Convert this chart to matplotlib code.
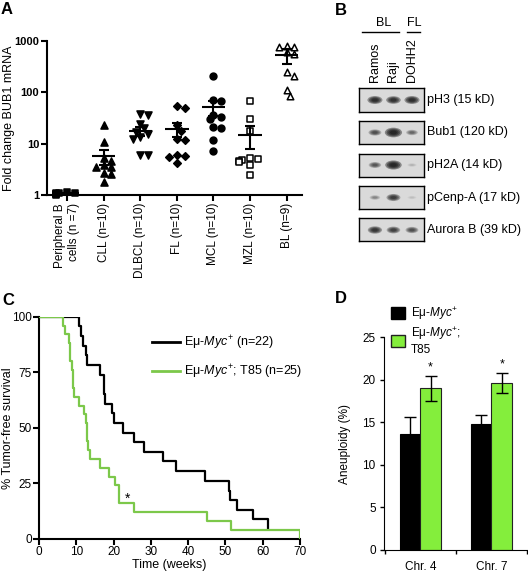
import numpy as np
import matplotlib
matplotlib.use("Agg")
import matplotlib.pyplot as plt
import matplotlib.transforms as mtransforms
from matplotlib.patches import Ellipse, Patch
from matplotlib.lines import Line2D

plt.rcParams['font.family'] = ['Liberation Sans', 'DejaVu Sans']
plt.rcParams['mathtext.fontset'] = 'custom'
plt.rcParams['mathtext.rm'] = 'Liberation Sans'
plt.rcParams['mathtext.it'] = 'Liberation Sans:italic'

# ---------------- data ----------------
# A: fold change BUB1 mRNA
groups = ['Peripheral B\ncells (n =7)', 'CLL (n=10)', 'DLBCL (n=10)', 'FL (n=10)',
          'MCL (n=10)', 'MZL (n=10)', 'BL (n=9)']
pbc = [1.03, 1.05, 1.07, 1.09, 1.11, 1.13, 1.15]
cll = [23.5, 10.8, 5.2, 4.6, 3.9, 3.6, 3.5, 2.7, 2.6, 1.8]
dlbcl = [38, 37, 24.5, 20, 17, 15.7, 13.5, 12.6, 6.0, 6.0]
fl = [55, 50, 22.8, 18, 12.6, 11.7, 6.0, 5.7, 5.6, 4.2]
mcl = [210, 72, 68, 36, 34, 30, 21, 20, 11.7, 7.3]
mzl = [69, 30.6, 17.7, 5.2, 5.0, 4.8, 4.6, 4.4, 3.8, 2.5]
bl = [800, 750, 760, 620, 550, 245, 210, 112, 87]
group_mean = [1.09, 5.7, 17.7, 19.6, 51, 15, 534]
group_sem = [0.03, 1.9, 3.5, 5.7, 16, 7, 170]

# B: western blot
blot_rows = ['pH3 (15 kD)', 'Bub1 (120 kD)', 'pH2A (14 kD)', 'pCenp-A (17 kD)', 'Aurora B (39 kD)']
blot_lanes = ['Ramos', 'Raji', 'DOHH2']
band_intensity = [[0.9, 0.85, 0.9],
                  [0.6, 1.2, 0.45],
                  [0.55, 1.1, 0.12],
                  [0.3, 0.75, 0.08],
                  [0.8, 0.7, 0.6]]

# C: Kaplan-Meier (weeks, % tumor-free)
myc_t = [0, 10.6, 11.3, 11.7, 12.6, 13.0, 16.4, 17.3, 17.5, 17.7, 19.7, 20.2, 22.6,
         25.6, 28.1, 33.2, 36.7, 44.5, 51.0, 51.2, 53.0, 57.3, 61.5]
myc_s = [100, 95.7, 91.3, 87.0, 82.6, 78.3, 73.9, 69.6, 65.2, 60.9, 56.5, 52.2, 47.8,
         43.5, 39.1, 34.8, 30.4, 26.1, 21.7, 17.4, 13.0, 8.7, 4.3]
t85_t = [0, 6.5, 7.1, 8.1, 8.2, 8.4, 8.8, 9.0, 9.2, 9.5, 10.6, 12.2, 12.6, 12.9, 13.0,
         13.1, 13.7, 16.4, 18.9, 20.4, 21.4, 21.5, 25.4, 45.0, 51.5, 70.0]
t85_s = [100, 96, 92, 88, 84, 80, 76, 72, 68, 64, 60, 56, 52, 48, 44, 40, 36, 32, 28,
         24, 20, 16, 12, 8, 4, 0]

# D: aneuploidy
chroms = ['Chr. 4', 'Chr. 7']
aneu_myc = [13.6, 14.8]
aneu_myc_err = [2.0, 1.1]
aneu_t85 = [19.0, 19.6]
aneu_t85_err = [1.5, 1.2]

GREEN = '#84ee3c'
GREEN_LINE = '#7cc84a'

W, H = 528, 576
fig = plt.figure(figsize=(W / 100, H / 100), dpi=100)


def px_axes(left, top, right, bottom):
    return fig.add_axes([left / W, 1 - bottom / H, (right - left) / W, (bottom - top) / H])


def fxy(x, y):
    return x / W, 1 - y / H


def ylabel_at(ax, px):
    # right edge of the rotated y label at a pixel column
    bb = ax.get_position()
    ax.yaxis.set_label_coords((px / W - bb.x0) / bb.width, 0.5)


def swarm(vals, dx=0.15, dy=0.11):
    # simple beeswarm: push overlapping points sideways
    logs = np.log10(vals)
    offs = np.zeros(len(vals))
    placed = []
    for idx in np.argsort(-logs):
        for k in [0, 1, -1, 2, -2, 3, -3]:
            off = k * dx * 0.7
            if all(((off - po) / dx) ** 2 + ((logs[idx] - pl) / dy) ** 2 >= 1 for po, pl in placed):
                break
        offs[idx] = off
        placed.append((off, logs[idx]))
    return offs


# ---------------- panel A ----------------
axA = px_axes(47, 41, 302, 195.3)
series = [pbc, cll, dlbcl, fl, mcl, mzl, bl]
markers = [('s', True, 20), ('^', True, 26), ('v', True, 26), ('D', True, 15),
           ('o', True, 24), ('s', False, 22), ('^', False, 22)]
for i, vals in enumerate(series):
    mk, filled, size = markers[i]
    offs = swarm(np.array(vals))
    axA.scatter(i + offs, vals, marker=mk, s=size, facecolor='black' if filled else 'white',
                edgecolor='black', linewidth=1.1, zorder=3, clip_on=False)
    m, e = group_mean[i], group_sem[i]
    axA.hlines(m, i - 0.32, i + 0.32, color='black', lw=1.5, zorder=4)
    axA.vlines(i, m - e, m + e, color='black', lw=1.5, zorder=4)
    axA.hlines([m - e, m + e], i - 0.14, i + 0.14, color='black', lw=1.5, zorder=4)
axA.set_yscale('log')
axA.set_ylim(1, 1000)
axA.set_xlim(-0.55, 6.42)
axA.set_yticks([1, 10, 100, 1000])
axA.set_yticklabels(['1', '10', '100', '1000'], fontweight='bold', fontsize=8)
axA.yaxis.set_minor_locator(matplotlib.ticker.NullLocator())
axA.set_xticks(range(len(groups)))
axA.set_xticklabels(groups, rotation=90, fontsize=8.5, va='top', ha='center', multialignment='right')
axA.set_ylabel('Fold change BUB1 mRNA', fontsize=9)
ylabel_at(axA, 15)
for s in ['top', 'right']:
    axA.spines[s].set_visible(False)
for s in ['left', 'bottom']:
    axA.spines[s].set_linewidth(1.5)
axA.tick_params(direction='out', length=4, width=1.5, pad=1.5)

# ---------------- panel B ----------------
row_axes = []
for r, name in enumerate(blot_rows):
    cy = 100 + 32.5 * r
    ax = px_axes(359, cy - 11.5, 424, cy + 11.5)
    ax.set_xlim(-0.86, 2.65)
    ax.set_ylim(0, 1)
    ax.set_facecolor('#dadada')
    ax.set_xticks([])
    ax.set_yticks([])
    for s in ax.spines.values():
        s.set_linewidth(1.0)
    for j, inten in enumerate(band_intensity[r]):
        w = 0.45 + 0.4 * inten
        h = 0.12 + 0.25 * inten
        a = min(1.0, inten) * 0.42
        for sc in [1.0, 0.8, 0.6, 0.4]:
            ax.add_patch(Ellipse((j, 0.5), w * sc, h * sc, color='#111111', alpha=a, lw=0))
    ax.text(1.05, 0.5, name, transform=ax.transAxes, va='center', ha='left', fontsize=9)
    row_axes.append(ax)

ax0 = row_axes[0]
btrans = mtransforms.blended_transform_factory(ax0.transData, fig.transFigure)
for j, lane in enumerate(blot_lanes):
    ax0.text(j, fxy(0, 82)[1], lane, transform=btrans, rotation=90, ha='center', va='bottom',
             fontsize=9)
ax0.text(0.45, fxy(0, 23)[1], 'BL', transform=btrans, ha='center', va='center', fontsize=9)
ax0.text(2.15, fxy(0, 23)[1], 'FL', transform=btrans, ha='center', va='center', fontsize=9)
ax0.add_line(Line2D([-0.7, 1.3], [fxy(0, 31.7)[1]] * 2, transform=btrans, color='black',
                    lw=1, clip_on=False))
ax0.add_line(Line2D([1.75, 2.45], [fxy(0, 31.7)[1]] * 2, transform=btrans, color='black',
                    lw=1, clip_on=False))

# ---------------- panel C ----------------
axC = px_axes(39, 316.7, 300, 538.7)
axC.step(myc_t, myc_s, where='post', color='black', lw=1.6, zorder=2)
axC.step(t85_t, t85_s, where='post', color=GREEN_LINE, lw=1.6, zorder=3)
axC.text(23.8, 18, '*', ha='center', va='center', fontsize=10)
axC.set_xlim(0, 70)
axC.set_ylim(0, 100)
axC.set_xticks(range(0, 71, 10))
axC.set_yticks([0, 25, 50, 75, 100])
axC.set_xlabel('Time (weeks)', fontsize=9, labelpad=1)
axC.set_ylabel('% Tumor-free survival', fontsize=9)
ylabel_at(axC, 14)
for s in ['top', 'right']:
    axC.spines[s].set_visible(False)
for s in ['left', 'bottom']:
    axC.spines[s].set_linewidth(1.5)
axC.tick_params(direction='out', length=4, width=1.5, labelsize=8.5, pad=1)
handles = [Line2D([], [], color='black', lw=2),
           Line2D([], [], color=GREEN_LINE, lw=2)]
axC.legend(handles, [r'E$\mathregular{\mu}$-$\mathit{Myc}^{+}$ (n=22)',
                     r'E$\mathregular{\mu}$-$\mathit{Myc}^{+}$; T85 (n=25)'],
           loc='upper left', bbox_to_anchor=fxy(152, 334), bbox_transform=fig.transFigure,
           frameon=False, fontsize=9, handlelength=2.2, handletextpad=0.4, labelspacing=0.9,
           borderpad=0, borderaxespad=0)

# ---------------- panel D ----------------
axD = px_axes(384, 337.3, 527, 550)
x = np.arange(len(chroms))
bw = 0.29
axD.bar(x - bw / 2, aneu_myc, bw, color='black', edgecolor='black', lw=0.8,
        yerr=aneu_myc_err, capsize=4, error_kw=dict(lw=1, capthick=1, ecolor='black'))
axD.bar(x + bw / 2, aneu_t85, bw, color=GREEN, edgecolor='#222222', lw=0.8,
        yerr=aneu_t85_err, capsize=4, error_kw=dict(lw=1, capthick=1, ecolor='black'))
for xi, v, e in zip(x, aneu_t85, aneu_t85_err):
    axD.text(xi + bw / 2, v + e + 0.3, '*', ha='center', va='bottom', fontsize=9)
axD.set_xlim(-0.51, 1.5)
axD.set_ylim(0, 25)
axD.set_yticks([0, 5, 10, 15, 20, 25])
axD.set_xticks(x)
axD.set_xticklabels(chroms, fontsize=8.5)
axD.set_xticks([-0.5, 0.5, 1.5], minor=True)
axD.tick_params(axis='x', which='major', length=0, pad=8)
axD.tick_params(axis='x', which='minor', length=3, width=1)
axD.tick_params(axis='y', direction='out', length=3, width=1, labelsize=8.5, pad=3)
axD.set_ylabel('Aneuploidy (%)', fontsize=8.5)
ylabel_at(axD, 351)
for s in ['top', 'right']:
    axD.spines[s].set_visible(False)
axD.legend([Patch(facecolor='black', edgecolor='black'),
            Patch(facecolor=GREEN, edgecolor='#222222')],
           [r'E$\mathregular{\mu}$-$\mathit{Myc}^{+}$',
            'E$\\mathregular{\\mu}$-$\\mathit{Myc}^{+}$;\nT85'],
           loc='upper left', bbox_to_anchor=fxy(391, 305), bbox_transform=fig.transFigure,
           frameon=False, fontsize=8.5, handlelength=1.2, handleheight=1.2,
           handletextpad=0.5, labelspacing=0.3, borderpad=0, borderaxespad=0)

# ---------------- panel letters ----------------
for letter, (px, py) in zip('ABCD', [(1, 2), (335, 3), (2, 293), (335, 291)]):
    fig.text(*fxy(px, py), letter, fontsize=12, fontweight='bold', ha='left', va='top')

fig.savefig('out.png', dpi=100)
